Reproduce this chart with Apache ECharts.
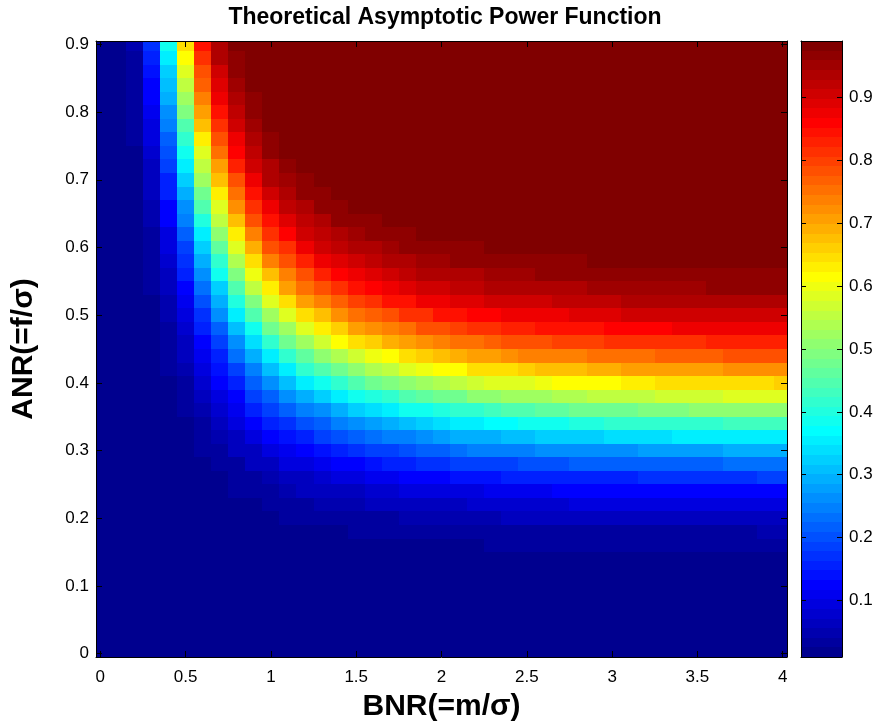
<!DOCTYPE html>
<html>
<head>
<meta charset="utf-8">
<script src="https://cdn.jsdelivr.net/npm/echarts@6/dist/echarts.min.js"></script>
<style>html,body{margin:0;padding:0;background:#fff}#c{width:886px;height:728px}</style>
</head>
<body>
<div id="c"></div>
<script>
// ---- data ----
const bnr = [0,0.1,0.2,0.3,0.4,0.5,0.6,0.7,0.8,0.9,1,1.1,1.2,1.3,1.4,1.5,1.6,1.7,1.8,1.9,2,2.1,2.2,2.3,2.4,2.5,2.6,2.7,2.8,2.9,3,3.1,3.2,3.3,3.4,3.5,3.6,3.7,3.8,3.9,4];
const anr = [0,0.02,0.04,0.06,0.08,0.1,0.12,0.14,0.16,0.18,0.2,0.22,0.24,0.26,0.28,0.3,0.32,0.34,0.36,0.38,0.4,0.42,0.44,0.46,0.48,0.5,0.52,0.54,0.56,0.58,0.6,0.62,0.64,0.66,0.68,0.7,0.72,0.74,0.76,0.78,0.8,0.82,0.84,0.86,0.88,0.9];
const xTicks = [0,0.5,1,1.5,2,2.5,3,3.5,4];
const yTicks = [0,0.1,0.2,0.3,0.4,0.5,0.6,0.7,0.8,0.9];
const cbTicks = [0.1,0.2,0.3,0.4,0.5,0.6,0.7,0.8,0.9];
// power in percent; one row per BNR value, listing the ANR values of `anr` bottom to top
const powerPct = [
/*0.0*/[1,1,1,1,1,1,1,1,1,1,1,1,1,1,1,1,1,1,1,1,1,1,1,1,1,1,1,1,1,1,1,1,1,1,1,1,1,1,1,1,1,1,1,1,1,1],
/*0.1*/[1,1,1,1,1,1,1,1,1,1,1,1,1,1,1,1,1,1,1,1,1,1,1,1,1,1,1,1,1,1,1,1,1,1,1,1,1,1,1,1,1,1,1,1,1,1],
/*0.2*/[1,1,1,1,1,1,1,1,1,1,1,1,1,1,1,1,1,1,1,1,1,1,1,1,1,1,1,1,1,1,1,1,2,2,2,2,2,2,3,3,3,3,4,4,4,5],
/*0.3*/[1,1,1,1,1,1,1,1,1,1,1,1,1,1,1,1,1,1,1,1,1,1,1,2,2,2,2,3,3,3,4,4,5,5,6,7,7,8,9,10,11,12,13,14,15,17],
/*0.4*/[1,1,1,1,1,1,1,1,1,1,1,1,1,1,1,1,1,1,2,2,2,3,3,4,4,5,5,6,7,8,9,10,12,13,15,16,18,20,22,24,26,29,31,33,36,39],
/*0.5*/[1,1,1,1,1,1,1,1,1,1,1,1,1,1,1,2,2,2,3,4,4,5,6,7,8,10,11,13,15,17,19,21,24,27,29,32,35,39,42,45,49,52,55,59,62,65],
/*0.6*/[1,1,1,1,1,1,1,1,1,1,1,1,1,2,2,3,3,4,5,6,8,9,11,13,15,17,20,23,26,29,32,36,40,44,48,52,55,59,63,67,70,73,77,79,82,85],
/*0.7*/[1,1,1,1,1,1,1,1,1,1,1,1,2,2,3,4,5,6,8,10,12,14,16,19,22,26,30,33,38,42,46,51,55,59,63,68,71,75,78,81,84,87,89,91,93,94],
/*0.8*/[1,1,1,1,1,1,1,1,1,1,1,2,3,3,4,6,7,9,11,13,16,19,23,27,31,35,40,44,49,54,59,63,68,72,76,79,83,86,88,90,92,94,95,96,97,98],
/*0.9*/[1,1,1,1,1,1,1,1,1,1,2,2,3,4,6,7,9,12,15,18,21,25,30,34,39,44,49,55,60,65,69,74,78,81,85,88,90,92,94,95,96,97,98,99,99,99],
/*1.0*/[1,1,1,1,1,1,1,1,1,2,2,3,4,5,7,9,12,15,18,22,27,31,36,42,47,52,58,63,68,73,78,81,85,88,90,93,94,96,97,98,98,99,99,99,99,99],
/*1.1*/[1,1,1,1,1,1,1,1,1,2,3,4,5,6,9,11,14,17,21,26,31,36,42,47,53,59,64,70,74,79,82,86,89,92,94,95,97,98,98,99,99,99,99,99,99,99],
/*1.2*/[1,1,1,1,1,1,1,1,1,2,3,4,6,7,10,13,16,20,25,29,35,41,46,52,58,64,70,75,79,83,87,90,92,94,96,97,98,98,99,99,99,99,99,99,99,99],
/*1.3*/[1,1,1,1,1,1,1,1,2,2,3,5,6,8,11,14,18,22,27,33,38,44,51,57,63,68,74,79,83,87,90,92,94,96,97,98,99,99,99,99,99,99,99,99,99,99],
/*1.4*/[1,1,1,1,1,1,1,1,2,2,4,5,7,9,12,16,20,25,30,36,42,48,54,61,66,72,77,82,86,89,92,94,96,97,98,98,99,99,99,99,99,99,99,99,99,99],
/*1.5*/[1,1,1,1,1,1,1,1,2,3,4,5,7,10,13,17,21,27,32,38,44,51,57,64,70,75,80,84,88,91,93,95,97,98,98,99,99,99,99,99,99,99,99,99,99,99],
/*1.6*/[1,1,1,1,1,1,1,1,2,3,4,6,8,11,14,18,23,28,34,40,47,54,60,66,72,77,82,86,89,92,94,96,97,98,99,99,99,99,99,99,99,99,99,99,99,99],
/*1.7*/[1,1,1,1,1,1,1,1,2,3,4,6,8,11,15,19,24,30,36,42,49,56,62,69,74,79,84,88,91,93,95,97,98,98,99,99,99,99,99,99,99,99,99,99,99,99],
/*1.8*/[1,1,1,1,1,1,1,1,2,3,5,6,9,12,16,20,25,31,38,44,51,58,64,70,76,81,85,89,92,94,96,97,98,99,99,99,99,99,99,99,99,99,99,99,99,99],
/*1.9*/[1,1,1,1,1,1,1,1,2,3,5,7,9,13,17,21,27,33,39,46,53,60,66,72,78,82,87,90,93,95,96,98,98,99,99,99,99,99,99,99,99,99,99,99,99,99],
/*2.0*/[1,1,1,1,1,1,1,1,2,3,5,7,10,13,17,22,28,34,40,47,54,61,68,74,79,84,88,91,93,95,97,98,99,99,99,99,99,99,99,99,99,99,99,99,99,99],
/*2.1*/[1,1,1,1,1,1,1,2,2,4,5,7,10,14,18,23,29,35,41,48,56,62,69,75,80,85,89,92,94,96,97,98,99,99,99,99,99,99,99,99,99,99,99,99,99,99],
/*2.2*/[1,1,1,1,1,1,1,2,2,4,5,8,10,14,18,24,30,36,42,50,57,64,70,76,81,86,89,92,94,96,97,98,99,99,99,99,99,99,99,99,99,99,99,99,99,99],
/*2.3*/[1,1,1,1,1,1,1,2,3,4,5,8,11,14,19,24,30,37,43,51,58,65,71,77,82,86,90,93,95,96,98,98,99,99,99,99,99,99,99,99,99,99,99,99,99,99],
/*2.4*/[1,1,1,1,1,1,1,2,3,4,6,8,11,15,19,25,31,37,44,52,59,65,72,78,83,87,90,93,95,97,98,99,99,99,99,99,99,99,99,99,99,99,99,99,99,99],
/*2.5*/[1,1,1,1,1,1,1,2,3,4,6,8,11,15,20,25,31,38,45,52,59,66,73,78,83,87,91,93,95,97,98,99,99,99,99,99,99,99,99,99,99,99,99,99,99,99],
/*2.6*/[1,1,1,1,1,1,1,2,3,4,6,8,11,15,20,26,32,38,46,53,60,67,73,79,84,88,91,94,96,97,98,99,99,99,99,99,99,99,99,99,99,99,99,99,99,99],
/*2.7*/[1,1,1,1,1,1,1,2,3,4,6,8,12,16,20,26,32,39,46,54,61,68,74,80,84,88,92,94,96,97,98,99,99,99,99,99,99,99,99,99,99,99,99,99,99,99],
/*2.8*/[1,1,1,1,1,1,1,2,3,4,6,9,12,16,21,26,33,40,47,54,61,68,74,80,85,89,92,94,96,97,98,99,99,99,99,99,99,99,99,99,99,99,99,99,99,99],
/*2.9*/[1,1,1,1,1,1,1,2,3,4,6,9,12,16,21,27,33,40,47,55,62,69,75,80,85,89,92,95,96,98,98,99,99,99,99,99,99,99,99,99,99,99,99,99,99,99],
/*3.0*/[1,1,1,1,1,1,1,2,3,4,6,9,12,16,21,27,34,41,48,55,62,69,75,81,86,89,92,95,96,98,98,99,99,99,99,99,99,99,99,99,99,99,99,99,99,99],
/*3.1*/[1,1,1,1,1,1,1,2,3,4,6,9,12,16,22,27,34,41,48,56,63,70,76,81,86,90,93,95,97,98,99,99,99,99,99,99,99,99,99,99,99,99,99,99,99,99],
/*3.2*/[1,1,1,1,1,1,1,2,3,4,6,9,12,17,22,28,34,41,49,56,63,70,76,82,86,90,93,95,97,98,99,99,99,99,99,99,99,99,99,99,99,99,99,99,99,99],
/*3.3*/[1,1,1,1,1,1,1,2,3,4,6,9,13,17,22,28,34,42,49,57,64,70,77,82,86,90,93,95,97,98,99,99,99,99,99,99,99,99,99,99,99,99,99,99,99,99],
/*3.4*/[1,1,1,1,1,1,1,2,3,4,6,9,13,17,22,28,35,42,49,57,64,71,77,82,87,90,93,95,97,98,99,99,99,99,99,99,99,99,99,99,99,99,99,99,99,99],
/*3.5*/[1,1,1,1,1,1,1,2,3,4,6,9,13,17,22,28,35,42,50,57,64,71,77,82,87,90,93,95,97,98,99,99,99,99,99,99,99,99,99,99,99,99,99,99,99,99],
/*3.6*/[1,1,1,1,1,1,1,2,3,4,7,9,13,17,22,28,35,42,50,57,65,71,77,83,87,91,93,96,97,98,99,99,99,99,99,99,99,99,99,99,99,99,99,99,99,99],
/*3.7*/[1,1,1,1,1,1,1,2,3,4,7,9,13,17,23,29,35,43,50,58,65,72,78,83,87,91,94,96,97,98,99,99,99,99,99,99,99,99,99,99,99,99,99,99,99,99],
/*3.8*/[1,1,1,1,1,1,1,2,3,4,7,9,13,17,23,29,36,43,50,58,65,72,78,83,87,91,94,96,97,98,99,99,99,99,99,99,99,99,99,99,99,99,99,99,99,99],
/*3.9*/[1,1,1,1,1,1,1,2,3,5,7,9,13,18,23,29,36,43,51,58,65,72,78,83,88,91,94,96,97,98,99,99,99,99,99,99,99,99,99,99,99,99,99,99,99,99],
/*4.0*/[1,1,1,1,1,1,1,2,3,5,7,10,13,18,23,29,36,43,51,58,66,72,78,83,88,91,94,96,97,98,99,99,99,99,99,99,99,99,99,99,99,99,99,99,99,99]
];

// ---- build ----
powerPct.forEach((c, i) => { if (c.length !== anr.length) console.warn('column', bnr[i], 'has', c.length); });
const cells = [];
bnr.forEach((b, i) => anr.forEach((a, j) => cells.push([b, a, powerPct[i][j] / 100])));
let cMin = Infinity, cMax = -Infinity;
cells.forEach(c => { cMin = Math.min(cMin, c[2]); cMax = Math.max(cMax, c[2]); });

function jet(m) {
  const n = Math.ceil(m / 4), u = [];
  for (let i = 1; i <= n; i++) u.push(i / n);
  for (let i = 1; i < n; i++) u.push(1);
  for (let i = n; i >= 1; i--) u.push(i / n);
  const off = Math.ceil(n / 2) - (m % 4 === 1 ? 1 : 0);
  const R = new Array(m).fill(0), G = new Array(m).fill(0), B = new Array(m).fill(0);
  for (let k = 0; k < u.length; k++) {
    const gi = off + k + 1, ri = gi + n, bi = gi - n;
    if (ri >= 1 && ri <= m) R[ri - 1] = u[k];
    if (gi >= 1 && gi <= m) G[gi - 1] = u[k];
    if (bi >= 1 && bi <= m) B[bi - 1] = u[k];
  }
  return R.map((r, i) => 'rgb(' + Math.round(r * 255) + ',' + Math.round(G[i] * 255) + ',' + Math.round(B[i] * 255) + ')');
}
const cmap = jet(64);
function colorOf(v) {
  let k = Math.floor((v - cMin) / (cMax - cMin) * 64);
  k = Math.max(0, Math.min(63, k));
  return cmap[k];
}
const cbLevels = cmap.map((c, i) => [i]);

const dx = bnr[1] - bnr[0], dy = anr[1] - anr[0];
const FONT = 'Liberation Sans, Arial, Helvetica, sans-serif';
const fmt = v => String(+(+v).toFixed(2));

function clipRect(r, cs) {
  const x0 = Math.max(r.x0, cs.x), x1 = Math.min(r.x1, cs.x + cs.width);
  const y0 = Math.max(r.y0, cs.y), y1 = Math.min(r.y1, cs.y + cs.height);
  if (x1 <= x0 || y1 <= y0) return null;
  const X0 = Math.round(x0), X1 = Math.round(x1), Y0 = Math.round(y0), Y1 = Math.round(y1);
  return { x: X0, y: Y0, width: X1 - X0, height: Y1 - Y0 };
}

const tickStyle = { color: '#000', width: 1 };
function frameAxis(extra) {
  return Object.assign({
    type: 'value', z: 10, splitLine: { show: false },
    axisLine: { show: true, onZero: false, lineStyle: { color: '#000', width: 1 } },
    axisTick: { show: true, inside: true, length: 6, lineStyle: tickStyle },
    axisLabel: { show: false }
  }, extra);
}

const chart = echarts.init(document.getElementById('c'), null, { renderer: 'canvas' });
chart.setOption({
  animation: false,
  backgroundColor: '#fff',
  title: {
    text: 'Theoretical Asymptotic Power Function',
    left: 440, textAlign: 'center', top: 1,
    textStyle: { fontFamily: FONT, fontWeight: 'bold', fontSize: 23, color: '#000' }
  },
  grid: [
    { left: 96, top: 41, width: 691, height: 616 },
    { left: 801, top: 41, width: 41, height: 616 }
  ],
  xAxis: [
    frameAxis({ gridIndex: 0, position: 'bottom', min: -0.025, max: 4.025,
      axisTick: { show: true, inside: true, length: 6, lineStyle: tickStyle, customValues: xTicks },
      axisLabel: { show: true, customValues: xTicks, formatter: fmt, margin: 12, fontFamily: FONT, fontSize: 17, color: '#000' },
      name: 'BNR(=m/σ)', nameLocation: 'middle', nameGap: 35,
      nameTextStyle: { fontFamily: FONT, fontWeight: 'bold', fontSize: 30, color: '#000' } }),
    frameAxis({ gridIndex: 0, position: 'top', min: -0.025, max: 4.025,
      axisTick: { show: true, inside: true, length: 6, lineStyle: tickStyle, customValues: xTicks } }),
    frameAxis({ gridIndex: 1, position: 'bottom', min: 0, max: 1, axisTick: { show: false } }),
    frameAxis({ gridIndex: 1, position: 'top', min: 0, max: 1, axisTick: { show: false } })
  ],
  yAxis: [
    frameAxis({ gridIndex: 0, position: 'left', min: -0.005, max: 0.905,
      axisTick: { show: true, inside: true, length: 6, lineStyle: tickStyle, customValues: yTicks },
      axisLabel: { show: true, customValues: yTicks, formatter: fmt, margin: 7, fontFamily: FONT, fontSize: 17, color: '#000' },
      name: 'ANR(=f/σ)', nameLocation: 'middle', nameGap: 57,
      nameTextStyle: { fontFamily: FONT, fontWeight: 'bold', fontSize: 30, color: '#000' } }),
    frameAxis({ gridIndex: 0, position: 'right', min: -0.005, max: 0.905,
      axisTick: { show: true, inside: true, length: 6, lineStyle: tickStyle, customValues: yTicks } }),
    frameAxis({ gridIndex: 1, position: 'right', min: cMin, max: cMax,
      axisTick: { show: true, inside: true, length: 5, lineStyle: tickStyle, customValues: cbTicks },
      axisLabel: { show: true, customValues: cbTicks, formatter: fmt, margin: 7, fontFamily: FONT, fontSize: 17, color: '#000' } }),
    frameAxis({ gridIndex: 1, position: 'left', min: cMin, max: cMax,
      axisTick: { show: true, inside: true, length: 5, lineStyle: tickStyle, customValues: cbTicks } })
  ],
  series: [
    {
      type: 'custom', xAxisIndex: 0, yAxisIndex: 0, z: 2, data: cells,
      renderItem: function (params, api) {
        const x = api.value(0), y = api.value(1), v = api.value(2);
        const p0 = api.coord([x - dx / 2, y + dy / 2]);
        const p1 = api.coord([x + dx / 2, y - dy / 2]);
        const r = clipRect({ x0: p0[0], x1: p1[0], y0: p0[1], y1: p1[1] }, params.coordSys);
        if (!r) return null;
        return { type: 'rect', shape: r, style: { fill: colorOf(v) } };
      }
    },
    {
      type: 'custom', xAxisIndex: 2, yAxisIndex: 2, z: 2, data: cbLevels,
      renderItem: function (params, api) {
        const i = api.value(0);
        const step = (cMax - cMin) / 64;
        const p0 = api.coord([0, cMin + (i + 1) * step]);
        const p1 = api.coord([1, cMin + i * step]);
        const r = clipRect({ x0: p0[0], x1: p1[0], y0: p0[1], y1: p1[1] }, params.coordSys);
        if (!r) return null;
        return { type: 'rect', shape: r, style: { fill: cmap[i] } };
      }
    }
  ]
});
</script>
</body>
</html>
